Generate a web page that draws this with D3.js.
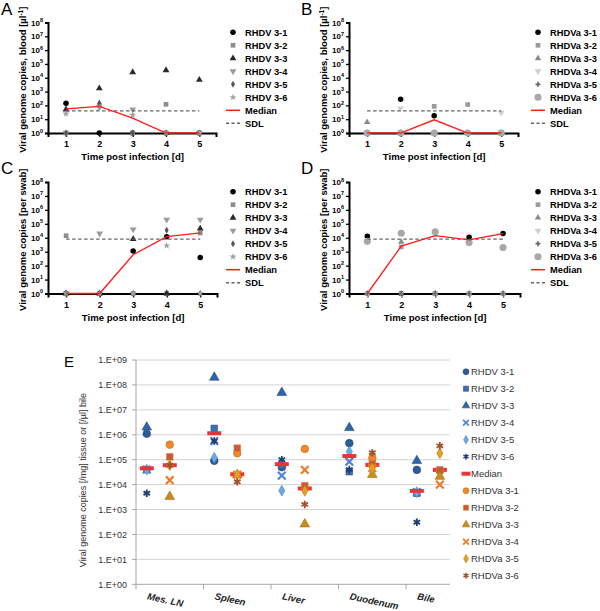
<!DOCTYPE html>
<html>
<head>
<meta charset="utf-8">
<script src="https://cdn.jsdelivr.net/npm/d3@7"></script>
<style>
  body { margin: 0; background: #fff; }
  svg { display: block; font-family: "Liberation Sans", Arial, sans-serif; }
</style>
</head>
<body>
<div id="chart"></div>
<script>

// ----------------------------------------
// DATA
// ----------------------------------------
const days = [1, 2, 3, 4, 5];
const decades = [1, 1e1, 1e2, 1e3, 1e4, 1e5, 1e6, 1e7, 1e8];

const rhdvNames  = ["RHDV 3-1", "RHDV 3-2", "RHDV 3-3", "RHDV 3-4", "RHDV 3-5", "RHDV 3-6"];
const rhdvaNames = ["RHDVa 3-1", "RHDVa 3-2", "RHDVa 3-3", "RHDVa 3-4", "RHDVa 3-5", "RHDVa 3-6"];

// A: blood, RHDV (one row per animal, days 1-5; 1 = not detected)
const bloodRHDV = [
  [140, 1, 1, 1, 1],
  [1, 100, 1, 120, 1],
  [50, 1700, 25000, 35000, 7000],
  [1, 80, 50, 1, 1],
  [1, 150, 1, 1, 1],
  [25, 70, 20, 1, 1]
];
const bloodRHDVMedian = [55, 85, 12, 1, 1];
const bloodRHDVSdl = 40;

// B: blood, RHDVa
const bloodRHDVa = [
  [1, 280, 18, 1, 1],
  [1, 1, 85, 115, 1],
  [6, 1, 1, 1, 1],
  [1, 60, 1, 1, 30],
  [1, 1, 1, 1, 1],
  [1, 1, 1, 1, 1]
];
const bloodRHDVaMedian = [1, 1, 9, 1, 1];
const bloodRHDVaSdl = 40;

// C: swab, RHDV
const swabRHDV = [
  [1, 1, 1100, 12000, 380],
  [14000, 1, 1, 1, 22000],
  [1, 1, 8000, 1, 45000],
  [1, 20000, 40000, 200000, 200000],
  [1, 1, 1, 35000, 1],
  [1, 1, 1, 2700, 1]
];
const swabRHDVMedian = [1, 1, 600, 12000, 22000];
const swabRHDVSdl = 8000;

// D: swab, RHDVa
const swabRHDVa = [
  [13000, 1, 1, 11000, 20000],
  [1, 2200, 1, 1, 1],
  [1, 5000, 1, 1, 1],
  [1, 1, 1, 1, 1],
  [1, 1, 1, 1, 1],
  [5500, 21000, 27000, 4500, 2000]
];
const swabRHDVaMedian = [1, 2500, 14000, 7000, 20000];
const swabRHDVaSdl = 8000;

// E: organs
const organs = ["Mes. LN", "Spleen", "Liver", "Duodenum", "Bile"];
const organTicks = [1, 1e1, 1e2, 1e3, 1e4, 1e5, 1e6, 1e7, 1e8, 1e9];
const organTickLabels = ["1.E+00", "1.E+01", "1.E+02", "1.E+03", "1.E+04",
                         "1.E+05", "1.E+06", "1.E+07", "1.E+08", "1.E+09"];

const organRHDV = [
  [1.1e6, 9e4, 5e4, 4.6e5, 3.9e4],
  [4e4, 1.8e6, 6e4, 3.3e4, 4.5e3],
  [2e6, 2e8, 4.9e7, 1.9e6, 9e4],
  [4e4, 5.6e5, 2.3e4, 8.3e4, 5e3],
  [4e4, 1.2e5, 5.7e3, 2.1e5, 5e3],
  [4.5e3, 5.6e5, 1e5, 4e4, 310]
];
const organRHDVMedian = [4.5e4, 1.15e6, 6.6e4, 1.4e5, 5.6e3];

const organRHDVa = [
  [4e5, 1.8e5, 2.7e5, 1.15e5, 3.5e4],
  [1.3e5, 2.9e5, 9e3, 6.6e4, 3.9e4],
  [3.3e3, 2.5e4, 260, 2.5e4, 2.1e4],
  [1.5e4, 2.5e4, 3.9e4, 4.6e4, 1e4],
  [6e4, 2.5e4, 5.6e3, 4.6e4, 1.8e5],
  [6e4, 1.3e4, 1.6e3, 1.9e5, 3.6e5]
];
const organRHDVaMedian = [6e4, 2.6e4, 7e3, 6.2e4, 3.9e4];


// ----------------------------------------
// SVG
// ----------------------------------------
const width = 600, height = 611;

const svg = d3.select("#chart")
  .append("svg")
  .attr("width", width)
  .attr("height", height);

svg.append("rect").attr("width", width).attr("height", height).attr("fill", "#fff");

// marker styles for the GraphPad-like panels
const rhdvMarks = [
  { type: d3.symbolCircle, size: 24, fill: "#000" },
  { type: d3.symbolSquare, size: 22, fill: "#8c8c8c" },
  { type: d3.symbolTriangle, size: 20, fill: "#2a2a2a" },
  { type: d3.symbolTriangle, size: 20, fill: "#9a9a9a", rot: 180 },
  { type: d3.symbolDiamond, size: 14, fill: "#555" },
  { type: d3.symbolStar, size: 16, fill: "#a0a0a0" }
];
const rhdvaMarks = [
  { type: d3.symbolCircle, size: 24, fill: "#000" },
  { type: d3.symbolSquare, size: 22, fill: "#9a9a9a" },
  { type: d3.symbolTriangle, size: 18, fill: "#8a8a8a" },
  { type: d3.symbolTriangle, size: 20, fill: "#cfcfcf", rot: 180 },
  { type: d3.symbolCross, size: 14, fill: "#666" },
  { type: d3.symbolCircle, size: 40, fill: "#a8a8a8" }
];

function drawMark(g, m, px, py, scale = 1) {
  const p = g.append("path")
    .attr("d", d3.symbol().type(m.type).size(m.size * scale)())
    .attr("transform", `translate(${px},${py})` + (m.rot ? ` rotate(${m.rot})` : ""));
  if (m.stroke) {
    p.attr("fill", "none").attr("stroke", m.stroke).attr("stroke-width", (m.sw || 2) * Math.sqrt(scale));
  } else {
    p.attr("fill", m.fill);
    if (m.edge) p.attr("stroke", m.edge).attr("stroke-width", 0.6);
  }
  return p;
}


// ----------------------------------------
// TIME COURSE PANELS (A-D)
// ----------------------------------------
function timePanel(cfg) {
  const g = svg.append("g");

  const x = d3.scaleLinear().domain([0.46, 5.5]).range([cfg.left, cfg.right]);
  const y = d3.scaleLog().domain([1, 1e8]).range([cfg.bottom, cfg.top]);

  svg.append("text")
    .attr("x", cfg.letterX)
    .attr("y", cfg.letterY)
    .style("font-size", "17px")
    .text(cfg.letter);

  // y axis
  const gy = g.append("g")
    .attr("transform", `translate(${cfg.left},0)`)
    .call(d3.axisLeft(y).tickValues(decades).tickSize(3).tickFormat(() => ""));
  gy.select(".domain").attr("stroke", "#000").attr("stroke-width", 2);
  gy.selectAll(".tick line").attr("stroke", "#000").attr("stroke-width", 1.3);

  decades.forEach(d => {
    const t = g.append("text")
      .attr("x", cfg.left - 5)
      .attr("y", y(d) + 3)
      .attr("text-anchor", "end")
      .style("font-size", "8px")
      .style("font-weight", "bold");
    t.append("tspan").text("10");
    t.append("tspan")
      .attr("dy", -3.5)
      .style("font-size", "5.5px")
      .text(Math.round(Math.log10(d)));
  });

  // x axis
  const gx = g.append("g")
    .attr("transform", `translate(0,${cfg.bottom})`)
    .call(d3.axisBottom(x).tickValues(days).tickSize(4).tickFormat(d3.format("d")));
  gx.select(".domain").attr("stroke", "#000").attr("stroke-width", 2);
  gx.selectAll(".tick line").attr("stroke", "#000").attr("stroke-width", 1.3);
  gx.selectAll(".tick text")
    .attr("y", 8)
    .style("font-size", "9px")
    .style("font-weight", "bold")
    .style("font-family", "Liberation Sans, Arial, sans-serif");

  g.append("text")
    .attr("x", (x(1) + x(5)) / 2)
    .attr("y", cfg.bottom + 27)
    .attr("text-anchor", "middle")
    .style("font-size", "9.6px")
    .style("font-weight", "bold")
    .text("Time post infection [d]");

  // y label
  const yl = g.append("text")
    .attr("transform", `translate(${cfg.left - 22},${(cfg.top + cfg.bottom) / 2 + 2}) rotate(-90)`)
    .attr("text-anchor", "middle")
    .style("font-size", "9.5px")
    .style("font-weight", "bold");
  yl.append("tspan").text(cfg.yLabel);
  if (cfg.yLabelSup) {
    yl.append("tspan").text("µl");
    yl.append("tspan").attr("dy", -3).style("font-size", "6.5px").text("-1");
    yl.append("tspan").attr("dy", 3).text("]");
  }

  // points
  cfg.values.forEach((row, i) => {
    row.forEach((v, j) => drawMark(g, cfg.marks[i], x(days[j]), y(v)));
  });

  // SDL
  g.append("line")
    .attr("x1", x(days[0]))
    .attr("x2", x(days[days.length - 1]))
    .attr("y1", y(cfg.sdl))
    .attr("y2", y(cfg.sdl))
    .attr("stroke", "#666")
    .attr("stroke-width", 1.2)
    .attr("stroke-dasharray", "3.5,2.5");

  // median
  const line = d3.line().x((d, j) => x(days[j])).y(d => y(d));
  g.append("path")
    .datum(cfg.median)
    .attr("fill", "none")
    .attr("stroke", "#ff1a1a")
    .attr("stroke-width", 1.3)
    .attr("d", line);

  // legend
  const lg = g.append("g");
  const fs = "9.3px";
  cfg.names.forEach((n, i) => {
    const ly = cfg.legendY + i * 13;
    drawMark(lg, cfg.marks[i], cfg.legendX, ly);
    lg.append("text")
      .attr("x", cfg.legendX + 12)
      .attr("y", ly + 3.5)
      .style("font-size", fs)
      .style("font-weight", "bold")
      .text(n);
  });
  const my = cfg.legendY + 6 * 13;
  lg.append("line")
    .attr("x1", cfg.legendX - 7).attr("x2", cfg.legendX + 7)
    .attr("y1", my).attr("y2", my)
    .attr("stroke", "#ff1a1a").attr("stroke-width", 1.5);
  lg.append("text").attr("x", cfg.legendX + 12).attr("y", my + 3.5)
    .style("font-size", fs).style("font-weight", "bold").text("Median");
  const sy = cfg.legendY + 7 * 13;
  lg.append("line")
    .attr("x1", cfg.legendX - 7).attr("x2", cfg.legendX + 7)
    .attr("y1", sy).attr("y2", sy)
    .attr("stroke", "#666").attr("stroke-width", 1.5)
    .attr("stroke-dasharray", "3,2.5");
  lg.append("text").attr("x", cfg.legendX + 12).attr("y", sy + 3.5)
    .style("font-size", fs).style("font-weight", "bold").text("SDL");
}

timePanel({
  letter: "A", letterX: 1, letterY: 15,
  left: 48, right: 216, top: 22.5, bottom: 133,
  yLabel: "Viral genome copies, blood [", yLabelSup: true,
  values: bloodRHDV, median: bloodRHDVMedian, sdl: bloodRHDVSdl,
  names: rhdvNames, marks: rhdvMarks,
  legendX: 233, legendY: 32.3
});

timePanel({
  letter: "B", letterX: 301, letterY: 15,
  left: 349, right: 518, top: 22.5, bottom: 133,
  yLabel: "Viral genome copies, blood [", yLabelSup: true,
  values: bloodRHDVa, median: bloodRHDVaMedian, sdl: bloodRHDVaSdl,
  names: rhdvaNames, marks: rhdvaMarks,
  legendX: 538, legendY: 32.3
});

timePanel({
  letter: "C", letterX: 1, letterY: 174,
  left: 48, right: 217, top: 182, bottom: 293.5,
  yLabel: "Viral genome copies [per swab]",
  values: swabRHDV, median: swabRHDVMedian, sdl: swabRHDVSdl,
  names: rhdvNames, marks: rhdvMarks,
  legendX: 233, legendY: 191.7
});

timePanel({
  letter: "D", letterX: 301, letterY: 174,
  left: 349, right: 520, top: 182, bottom: 293.5,
  yLabel: "Viral genome copies [per swab]",
  values: swabRHDVa, median: swabRHDVaMedian, sdl: swabRHDVaSdl,
  names: rhdvaNames, marks: rhdvaMarks,
  legendX: 538, legendY: 191.7
});


// ----------------------------------------
// ORGAN PANEL (E)
// ----------------------------------------
const plotLeft = 136, plotRight = 450, plotTop = 360, plotBottom = 584.3;

const xE = d3.scaleBand().domain(organs).range([plotLeft, 473.6]);
const yE = d3.scaleLog().domain([1, 1e9]).range([plotBottom, plotTop]);
const rhdvShift = -23;

const gE = svg.append("g");

svg.append("text")
  .attr("x", 64).attr("y", 367)
  .style("font-size", "15px")
  .text("E");

// grid
gE.selectAll(".grid")
  .data(organTicks)
  .join("line")
  .attr("x1", plotLeft).attr("x2", plotRight)
  .attr("y1", d => yE(d)).attr("y2", d => yE(d))
  .attr("stroke", d => d === 1 ? "#a6a6a6" : "#d4d4d4")
  .attr("stroke-width", 1);

gE.append("line")
  .attr("x1", plotLeft).attr("x2", plotLeft)
  .attr("y1", plotTop).attr("y2", plotBottom)
  .attr("stroke", "#a6a6a6");

// y tick labels
gE.selectAll(".ytl")
  .data(organTicks)
  .join("text")
  .attr("x", plotLeft - 9)
  .attr("y", d => yE(d) + 3.2)
  .attr("text-anchor", "end")
  .attr("fill", "#333")
  .style("font-size", "9px")
  .text((d, i) => organTickLabels[i]);

gE.selectAll(".ytk")
  .data(organTicks)
  .join("line")
  .attr("x1", plotLeft - 4).attr("x2", plotLeft)
  .attr("y1", d => yE(d)).attr("y2", d => yE(d))
  .attr("stroke", "#a6a6a6");

// x category ticks
gE.selectAll(".xtk")
  .data(organs)
  .join("line")
  .attr("x1", d => xE(d)).attr("x2", d => xE(d))
  .attr("y1", plotBottom).attr("y2", plotBottom + 5)
  .attr("stroke", "#a6a6a6");

gE.selectAll(".xtl")
  .data(organs)
  .join("text")
  .attr("transform", d => `translate(${xE(d) + xE.bandwidth() / 2 + rhdvShift},${plotBottom + 15}) rotate(12)`)
  .style("font-size", "9.5px")
  .style("font-weight", "bold")
  .style("font-style", "italic")
  .attr("fill", "#222")
  .text(d => d);

gE.append("text")
  .attr("transform", `translate(86,${(plotTop + plotBottom) / 2 + 8}) rotate(-90)`)
  .attr("text-anchor", "middle")
  .attr("fill", "#333")
  .style("font-size", "9px")
  .text("Viral genome copies [/mg] tissue or [/µl] bile");

const rhdvOrganMarks = [
  { type: d3.symbolCircle, size: 46, fill: "#2d5d96", edge: "#1e4474" },
  { type: d3.symbolSquare, size: 44, fill: "#3b6fb0", edge: "#28548a" },
  { type: d3.symbolTriangle, size: 40, fill: "#2f64a6", edge: "#214e86" },
  { type: d3.symbolTimes, size: 40, stroke: "#4a88d4", sw: 2.2 },
  { type: d3.symbolDiamond, size: 34, fill: "#72a8e2", edge: "#4d86c4" },
  { type: d3.symbolAsterisk, size: 40, stroke: "#1f3f72", sw: 1.8 }
];
const rhdvaOrganMarks = [
  { type: d3.symbolCircle, size: 46, fill: "#ef8a2c", edge: "#c96a18" },
  { type: d3.symbolSquare, size: 44, fill: "#c55a3c", edge: "#e07a30" },
  { type: d3.symbolTriangle, size: 40, fill: "#c98e1c", edge: "#9e6c10" },
  { type: d3.symbolTimes, size: 40, stroke: "#f07a26", sw: 2.2 },
  { type: d3.symbolDiamond, size: 34, fill: "#e6a024", edge: "#c0801a" },
  { type: d3.symbolAsterisk, size: 40, stroke: "#a4512b", sw: 1.8 }
];

function organX(organ, shift) {
  return xE(organ) + xE.bandwidth() / 2 + shift;
}

function drawMedianDash(g, px, py, w = 14) {
  g.append("rect")
    .attr("x", px - w / 2).attr("y", py - 2)
    .attr("width", w).attr("height", 4)
    .attr("fill", "#e8353a");
}

organRHDV.forEach((row, i) => {
  row.forEach((v, j) => drawMark(gE, rhdvOrganMarks[i], organX(organs[j], rhdvShift), yE(v)));
});
organRHDVMedian.forEach((v, j) => drawMedianDash(gE, organX(organs[j], rhdvShift), yE(v)));
organRHDVaMedian.forEach((v, j) => drawMedianDash(gE, organX(organs[j], 0), yE(v)));
organRHDVa.forEach((row, i) => {
  row.forEach((v, j) => drawMark(gE, rhdvaOrganMarks[i], organX(organs[j], 0), yE(v)));
});

// legend E
const legE = svg.append("g");
const legNames = [...rhdvNames, "Median", ...rhdvaNames];
legNames.forEach((n, i) => {
  const ly = 371.7 + i * 17;
  const mx = 466;
  if (i < 6) drawMark(legE, rhdvOrganMarks[i], mx, ly, 0.6);
  else if (i === 6) drawMedianDash(legE, mx, ly, 9);
  else drawMark(legE, rhdvaOrganMarks[i - 7], mx, ly, 0.6);
  legE.append("text")
    .attr("x", 471)
    .attr("y", ly + 3.4)
    .attr("fill", "#333")
    .style("font-size", "9.5px")
    .text(n);
});

</script>
</body>
</html>
